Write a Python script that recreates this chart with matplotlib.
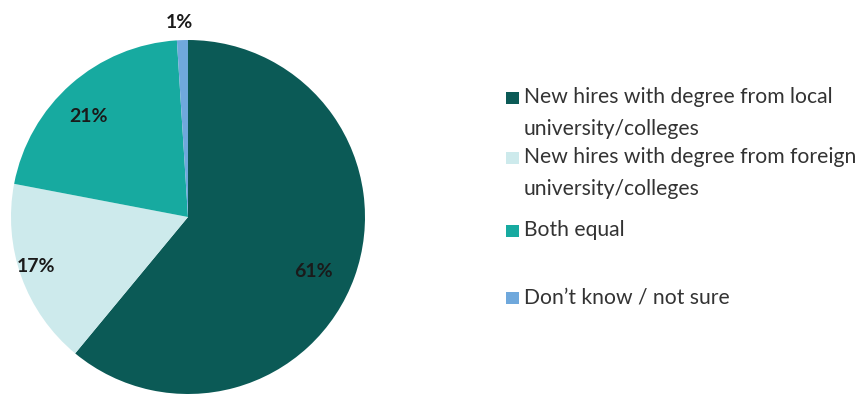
import matplotlib.pyplot as plt
from matplotlib.patches import Rectangle

# Survey shares, drawn clockwise from 12 o'clock
categories = [
    "New hires with degree from local\nuniversity/colleges",
    "New hires with degree from foreign\nuniversity/colleges",
    "Both equal",
    "Don\u2019t know / not sure",
]
shares = [61, 17, 21, 1]
colors = ["#0b5a56", "#cdeaec", "#17aaa0", "#6fa8dc"]

# label anchor points in axes data units (pie radius = 1)
label_pos = [(0.71, -0.31), (-0.86, -0.28), (-0.56, 0.57), (-0.05, 1.10)]

fig = plt.figure(figsize=(8.59, 3.94), dpi=100)
ax = fig.add_axes([11 / 859, 0, 354 / 859, 354 / 394])
wedges, _ = ax.pie(shares, colors=colors, startangle=90, counterclock=False,
                   radius=1, wedgeprops=dict(linewidth=0))
ax.set_xlim(-1, 1)
ax.set_ylim(-1, 1)
ax.set_aspect("equal")
ax.axis("off")

for (x, y), v in zip(label_pos, shares):
    ax.text(x, y, f"{v}%", ha="center", va="center", fontsize=14,
            fontweight="bold", family="Lato", color="#1a1a1a", clip_on=False)

# legend drawn by hand: square marker + wrapped label
legend_y = [97, 157, 230, 297]
for y, lab, c in zip(legend_y, categories, colors):
    fig.patches.append(Rectangle((506 / 859, 1 - (y + 7) / 394), 13 / 859, 12 / 394,
                                 transform=fig.transFigure, color=c, lw=0))
    fig.text(524 / 859, 1 - (y - 10) / 394, lab, ha="left", va="top",
             fontsize=15.2, family="Lato", color="#333333", linespacing=1.72)

fig.savefig("out.png", dpi=100)
